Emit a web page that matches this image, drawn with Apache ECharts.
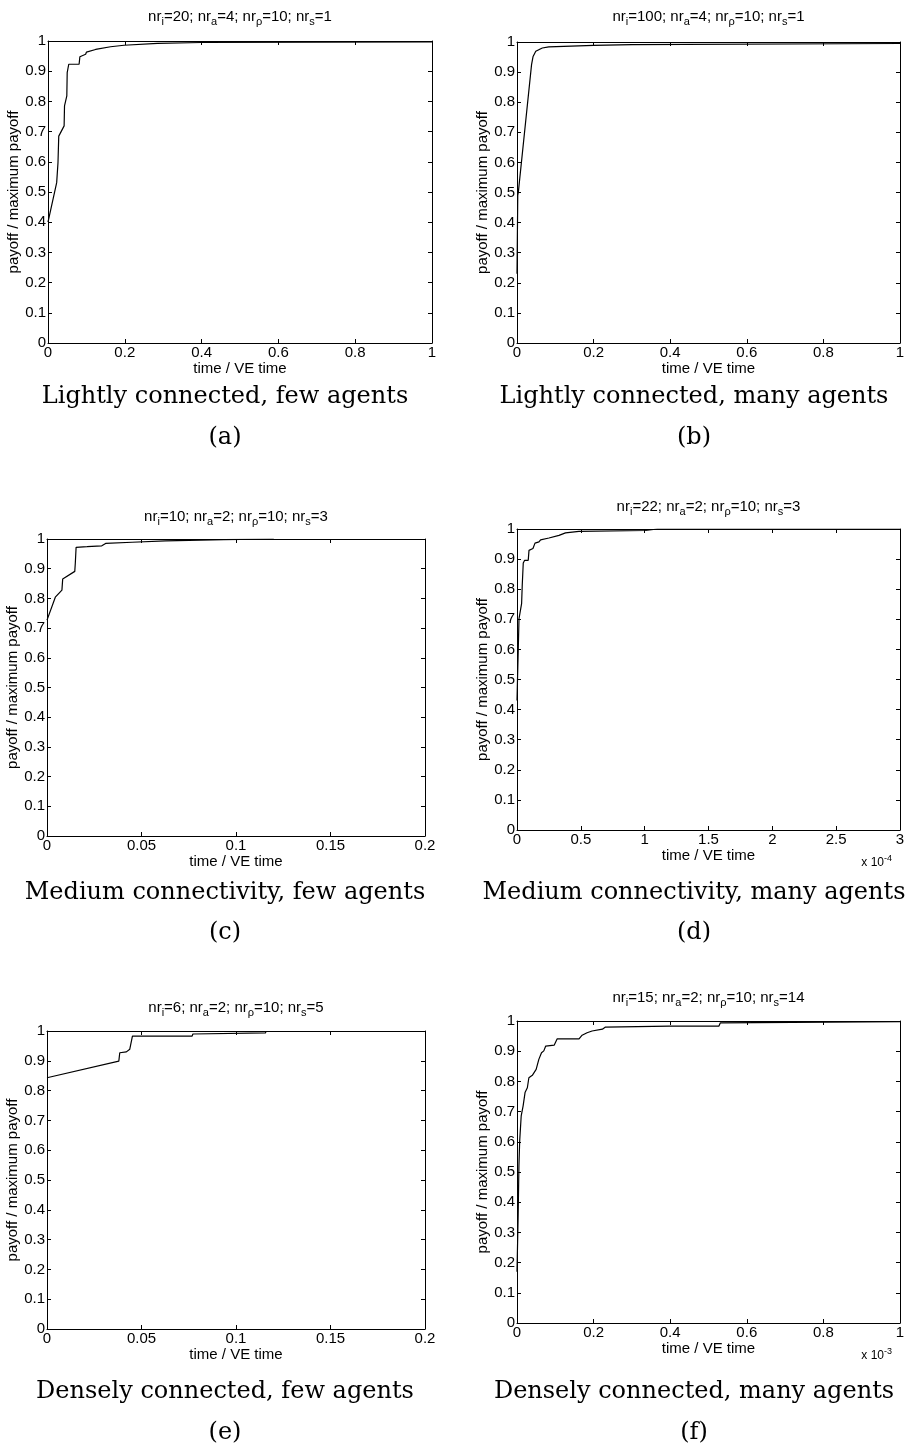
<!DOCTYPE html>
<html>
<head>
<meta charset="utf-8">
<script src="https://cdn.jsdelivr.net/npm/echarts@6/dist/echarts.min.js"></script>
<style>
  html, body { margin: 0; padding: 0; background: #fff; }
  #chart { width: 915px; height: 1446px; }
</style>
</head>
<body>
<div id="chart"></div>
<script>
// (a) lightly connected, few agents
var aTime   = [0, 0.0226, 0.026, 0.028, 0.042, 0.043, 0.049, 0.050, 0.054, 0.081, 0.083, 0.098, 0.100, 0.124, 0.163, 0.198, 0.285, 0.40, 1.0];
var aPayoff = [0.40, 0.531, 0.597, 0.685, 0.719, 0.785, 0.818, 0.895, 0.923, 0.923, 0.948, 0.956, 0.963, 0.972, 0.981, 0.986, 0.992, 0.995, 0.997];

// (b) lightly connected, many agents
var bTime   = [0, 0.002, 0.0034, 0.038, 0.042, 0.049, 0.066, 0.083, 0.2, 0.301, 1.0];
var bPayoff = [0.23, 0.49, 0.50, 0.925, 0.952, 0.969, 0.980, 0.984, 0.989, 0.991, 0.995];

// (c) medium connectivity, few agents
var cTime   = [0, 0.0044, 0.0048, 0.0079, 0.0083, 0.0147, 0.015, 0.0154, 0.0212, 0.029, 0.031, 0.045, 0.0627, 0.0936, 0.12];
var cPayoff = [0.727, 0.804, 0.809, 0.828, 0.865, 0.891, 0.921, 0.972, 0.974, 0.977, 0.985, 0.989, 0.994, 0.9976, 1.0];

// (d) medium connectivity, many agents  (time in units of 1e-4)
var dTime   = [0, 0.0157, 0.036, 0.041, 0.049, 0.06, 0.088, 0.094, 0.125, 0.141, 0.172, 0.185, 0.25, 0.329, 0.38, 0.485, 1.006, 1.1, 3.0];
var dPayoff = [0.43, 0.702, 0.752, 0.812, 0.887, 0.896, 0.896, 0.929, 0.935, 0.953, 0.957, 0.964, 0.970, 0.979, 0.987, 0.992, 0.995, 1.0, 1.0];

// (e) densely connected, few agents
var eTime   = [0, 0.038, 0.0385, 0.042, 0.0424, 0.0438, 0.0452, 0.0768, 0.0772, 0.1157, 0.1157];
var ePayoff = [0.843, 0.899, 0.927, 0.930, 0.936, 0.939, 0.983, 0.983, 0.990, 0.994, 1.0];

// (f) densely connected, many agents  (time in units of 1e-3)
var fTime   = [0, 0.003, 0.005, 0.007, 0.011, 0.016, 0.021, 0.027, 0.031, 0.04, 0.05, 0.057, 0.064, 0.07, 0.075, 0.097, 0.105, 0.162, 0.17, 0.183, 0.196, 0.223, 0.231, 0.397, 0.527, 0.531, 1.0];
var fPayoff = [0.17, 0.355, 0.52, 0.603, 0.686, 0.719, 0.763, 0.779, 0.812, 0.82, 0.84, 0.873, 0.895, 0.901, 0.917, 0.92, 0.941, 0.941, 0.953, 0.961, 0.967, 0.973, 0.98, 0.983, 0.983, 0.994, 0.998];

var titles = [
  'nr{s|i}=20; nr{s|a}=4; nr{s|ρ}=10; nr{s|s}=1',
  'nr{s|i}=100; nr{s|a}=4; nr{s|ρ}=10; nr{s|s}=1',
  'nr{s|i}=10; nr{s|a}=2; nr{s|ρ}=10; nr{s|s}=3',
  'nr{s|i}=22; nr{s|a}=2; nr{s|ρ}=10; nr{s|s}=3',
  'nr{s|i}=6; nr{s|a}=2; nr{s|ρ}=10; nr{s|s}=5',
  'nr{s|i}=15; nr{s|a}=2; nr{s|ρ}=10; nr{s|s}=14'
];
var captions = [
  'Lightly connected, few agents',
  'Lightly connected, many agents',
  'Medium connectivity, few agents',
  'Medium connectivity, many agents',
  'Densely connected, few agents',
  'Densely connected, many agents'
];
var letters = ['(a)', '(b)', '(c)', '(d)', '(e)', '(f)'];
var xMaxes = [1, 1, 0.2, 3, 0.2, 1];
var xSteps = [0.2, 0.2, 0.05, 0.5, 0.05, 0.2];
var xExponents = [null, null, null, '-4', null, '-3'];

// layout: plot boxes, title y, caption y, letter y
var layout = [
  { left: 48,  top: 41,   width: 384, height: 302, titleY: 17,   capX: 225, capY: 397,  letY: 438 },
  { left: 517, top: 42,   width: 383, height: 301, titleY: 17,   capX: 694, capY: 397,  letY: 438 },
  { left: 47,  top: 539,  width: 378, height: 297, titleY: 517,  capX: 225, capY: 893,  letY: 933 },
  { left: 517, top: 529,  width: 383, height: 301, titleY: 507,  capX: 694, capY: 893,  letY: 933 },
  { left: 47,  top: 1031, width: 378, height: 298, titleY: 1008, capX: 225, capY: 1392, letY: 1433 },
  { left: 517, top: 1021, width: 383, height: 302, titleY: 998,  capX: 694, capY: 1392, letY: 1433 }
];

var series_x = [aTime, bTime, cTime, dTime, eTime, fTime];
var series_y = [aPayoff, bPayoff, cPayoff, dPayoff, ePayoff, fPayoff];

var sans = 'Liberation Sans, Arial, sans-serif';
var serif = 'DejaVu Serif, serif';

var grids = [], xAxes = [], yAxes = [], series = [], graphics = [];

for (var i = 0; i < 6; i++) {
  var L = layout[i];
  grids.push({ left: L.left, top: L.top, width: L.width, height: L.height, containLabel: false });

  var lineStyle = { color: '#000', width: 1 };
  var tick = { show: true, inside: true, length: 4, lineStyle: { color: '#000', width: 1 } };

  xAxes.push({
    gridIndex: i, type: 'value', position: 'bottom',
    min: 0, max: xMaxes[i], interval: xSteps[i],
    axisLine: { show: true, onZero: false, lineStyle: lineStyle },
    axisTick: tick,
    splitLine: { show: false },
    axisLabel: { color: '#000', fontSize: 15, fontFamily: sans, margin: 2 },
    name: 'time / VE time', nameLocation: 'middle', nameGap: 17,
    nameTextStyle: { color: '#000', fontSize: 15, fontFamily: sans }
  });
  xAxes.push({
    gridIndex: i, type: 'value', position: 'top',
    min: 0, max: xMaxes[i], interval: xSteps[i],
    axisLine: { show: true, onZero: false, lineStyle: lineStyle },
    axisTick: tick,
    splitLine: { show: false },
    axisLabel: { show: false }
  });
  yAxes.push({
    gridIndex: i, type: 'value', position: 'left',
    min: 0, max: 1, interval: 0.1,
    axisLine: { show: true, onZero: false, lineStyle: lineStyle },
    axisTick: tick,
    splitLine: { show: false },
    axisLabel: { color: '#000', fontSize: 15, fontFamily: sans, margin: 2 },
    name: 'payoff / maximum payoff', nameLocation: 'middle', nameGap: 23,
    nameTextStyle: { color: '#000', fontSize: 15, fontFamily: sans }
  });
  yAxes.push({
    gridIndex: i, type: 'value', position: 'right',
    min: 0, max: 1, interval: 0.1,
    axisLine: { show: true, onZero: false, lineStyle: lineStyle },
    axisTick: tick,
    splitLine: { show: false },
    axisLabel: { show: false }
  });

  var pts = [];
  for (var k = 0; k < series_x[i].length; k++) {
    pts.push([series_x[i][k], series_y[i][k]]);
  }
  series.push({
    type: 'line',
    xAxisIndex: i * 2,
    yAxisIndex: i * 2,
    data: pts,
    showSymbol: false,
    lineStyle: { color: '#000', width: 1.2 },
    z: 1
  });

  graphics.push({
    type: 'text',
    style: {
      text: titles[i], x: L.left + L.width / 2, y: L.titleY,
      align: 'center', verticalAlign: 'middle',
      fontSize: 15, fontFamily: sans, fill: '#000',
      rich: { s: { fontSize: 11, fontFamily: sans, fill: '#000', padding: [10, 0, 0, 0] } }
    }
  });
  graphics.push({
    type: 'text',
    style: {
      text: captions[i], x: L.capX, y: L.capY,
      align: 'center', verticalAlign: 'middle',
      fontSize: 24, fontFamily: serif, fill: '#000'
    }
  });
  graphics.push({
    type: 'text',
    style: {
      text: letters[i], x: L.capX, y: L.letY,
      align: 'center', verticalAlign: 'middle',
      fontSize: 24, fontFamily: serif, fill: '#000'
    }
  });
  if (xExponents[i]) {
    graphics.push({
      type: 'text',
      style: {
        text: 'x 10{e|' + xExponents[i] + '}', x: L.left + L.width - 8, y: L.top + L.height + 33,
        align: 'right', verticalAlign: 'middle',
        fontSize: 12, fontFamily: sans, fill: '#000',
        rich: { e: { fontSize: 9, fontFamily: sans, fill: '#000', padding: [0, 0, 9, 0] } }
      }
    });
  }
}

var chartDom = document.getElementById('chart');
var myChart = echarts.init(chartDom);
var option = {
  backgroundColor: '#fff',
  animation: false,
  grid: grids,
  xAxis: xAxes,
  yAxis: yAxes,
  series: series,
  graphic: graphics
};
option && myChart.setOption(option);
</script>
</body>
</html>
